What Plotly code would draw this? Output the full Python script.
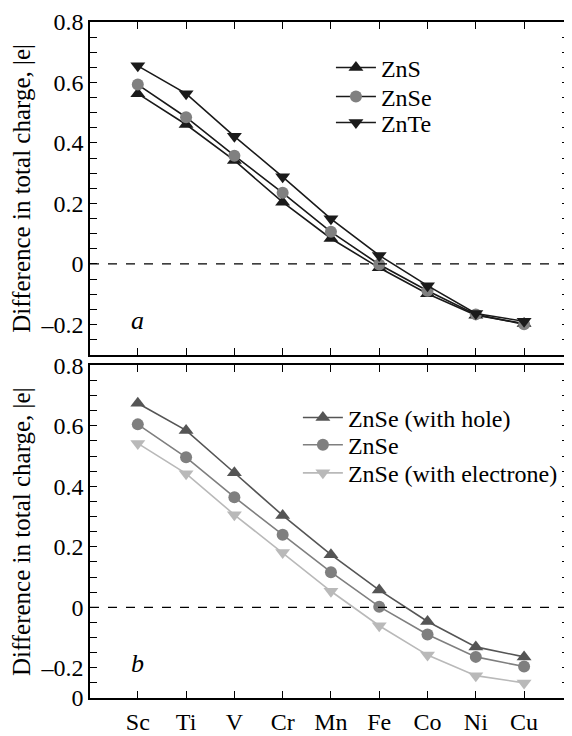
import plotly.graph_objects as go

elements = ["Sc", "Ti", "V", "Cr", "Mn", "Fe", "Co", "Ni", "Cu"]

# Panel a
zns = [0.563, 0.461, 0.342, 0.204, 0.084, -0.013, -0.099, -0.170, -0.197]
znse_a = [0.593, 0.485, 0.358, 0.235, 0.106, -0.002, -0.089, -0.167, -0.200]
znte = [0.655, 0.563, 0.422, 0.288, 0.149, 0.028, -0.072, -0.164, -0.190]

# Panel b
znse_hole = [0.675, 0.585, 0.445, 0.304, 0.174, 0.057, -0.047, -0.131, -0.164]
znse_b = [0.605, 0.496, 0.364, 0.240, 0.116, 0.002, -0.090, -0.164, -0.196]
znse_elec = [0.542, 0.442, 0.306, 0.181, 0.053, -0.061, -0.158, -0.226, -0.250]

ytick_vals = [round(-0.3 + 0.05 * i, 2) for i in range(23)]
labels_a = {0.8: "0.8", 0.6: "0.6", 0.4: "0.4", 0.2: "0.2", 0.0: "0", -0.2: "\u20130.2"}
labels_b = {0.8: "0.8", 0.6: "0.6", 0.4: "0.4", 0.2: "0.2", 0.0: "0", -0.2: "\u20130.2", -0.3: "0"}

FONT = "Liberation Serif"
FS = 24
fig = go.Figure()

def add(x, y, name, color, lcolor, symbol, size, xa, ya, legend):
    fig.add_trace(go.Scatter(
        x=x, y=y, name=name, mode="lines+markers", xaxis=xa, yaxis=ya, legend=legend,
        line=dict(color=lcolor, width=1.6),
        marker=dict(symbol=symbol, size=size, color=color, line=dict(width=0)),
    ))

add(elements, zns, "ZnS", "#1a1a1a", "#1a1a1a", "triangle-up", 13, "x", "y", "legend")
add(elements, znse_a, "ZnSe", "#808080", "#1a1a1a", "circle", 12, "x", "y", "legend2")
add(elements, znte, "ZnTe", "#1a1a1a", "#1a1a1a", "triangle-down", 13, "x", "y", "legend3")

add(elements, znse_hole, "ZnSe (with hole)", "#555555", "#555555", "triangle-up", 13, "x2", "y2", "legend4")
add(elements, znse_b, "ZnSe", "#7f7f7f", "#7f7f7f", "circle", 12, "x2", "y2", "legend5")
add(elements, znse_elec, "ZnSe (with electrone)", "#b9b9b9", "#b9b9b9", "triangle-down", 13, "x2", "y2", "legend6")

xcommon = dict(
    categoryorder="array", categoryarray=elements, range=[-0.99, 8.93],
    showline=True, linecolor="black", linewidth=1.6, mirror="ticks",
    ticks="inside", ticklen=7, tickwidth=1.2, tickcolor="black",
    showgrid=False, zeroline=False,
    tickfont=dict(family=FONT, size=FS, color="black"),
)
ycommon = dict(
    range=[-0.3, 0.8], tickvals=ytick_vals,
    showline=True, linecolor="black", linewidth=1.6, mirror="ticks",
    ticks="inside", ticklen=7, tickwidth=1.2, tickcolor="black",
    showgrid=False, zeroline=False,
    tickfont=dict(family=FONT, size=FS, color="black"),
    title=dict(text="Difference in total charge, |e|", font=dict(family=FONT, size=25, color="black"), standoff=9),
)

def leg(x, y):
    return dict(x=x, y=y, xanchor="left", yanchor="middle", bgcolor="rgba(0,0,0,0)",
                font=dict(family=FONT, size=FS, color="black"), itemwidth=40, tracegroupgap=0)

# plot area spans page y 16..703 (687 px), x 90..571 (481 px)
fig.update_layout(
    width=564, height=728,
    margin=dict(l=82, r=1, t=8, b=33),
    paper_bgcolor="white", plot_bgcolor="white",
    font=dict(family=FONT, size=FS, color="black"),
    xaxis=dict(xcommon, domain=[0, 1], anchor="y", showticklabels=False),
    yaxis=dict(ycommon, domain=[0.508, 1], anchor="x",
               ticktext=[labels_a.get(v, "") for v in ytick_vals]),
    xaxis2=dict(xcommon, domain=[0, 1], anchor="y2", ticklabelstandoff=1),
    yaxis2=dict(ycommon, domain=[0, 0.492], anchor="x2",
                ticktext=[labels_b.get(v, "") for v in ytick_vals]),
    legend=leg(0.503, 0.9320),
    legend2=leg(0.503, 0.8892),
    legend3=leg(0.503, 0.8508),
    legend4=leg(0.434, 0.4144),
    legend5=leg(0.434, 0.3740),
    legend6=leg(0.434, 0.3325),
    showlegend=True,
    shapes=[
        dict(type="line", xref="x domain", yref="y", x0=0, x1=1, y0=0, y1=0,
             line=dict(color="black", width=1.2, dash="dash")),
        dict(type="line", xref="x2 domain", yref="y2", x0=0, x1=1, y0=0, y1=0,
             line=dict(color="black", width=1.2, dash="dash")),
    ],
    annotations=[
        dict(text="<i>a</i>", x="Sc", y=-0.186, xref="x", yref="y", showarrow=False,
             font=dict(family=FONT, size=26, color="black")),
        dict(text="<i>b</i>", x="Sc", y=-0.187, xref="x2", yref="y2", showarrow=False,
             font=dict(family=FONT, size=26, color="black")),
    ],
)

fig.write_html("out.html")
